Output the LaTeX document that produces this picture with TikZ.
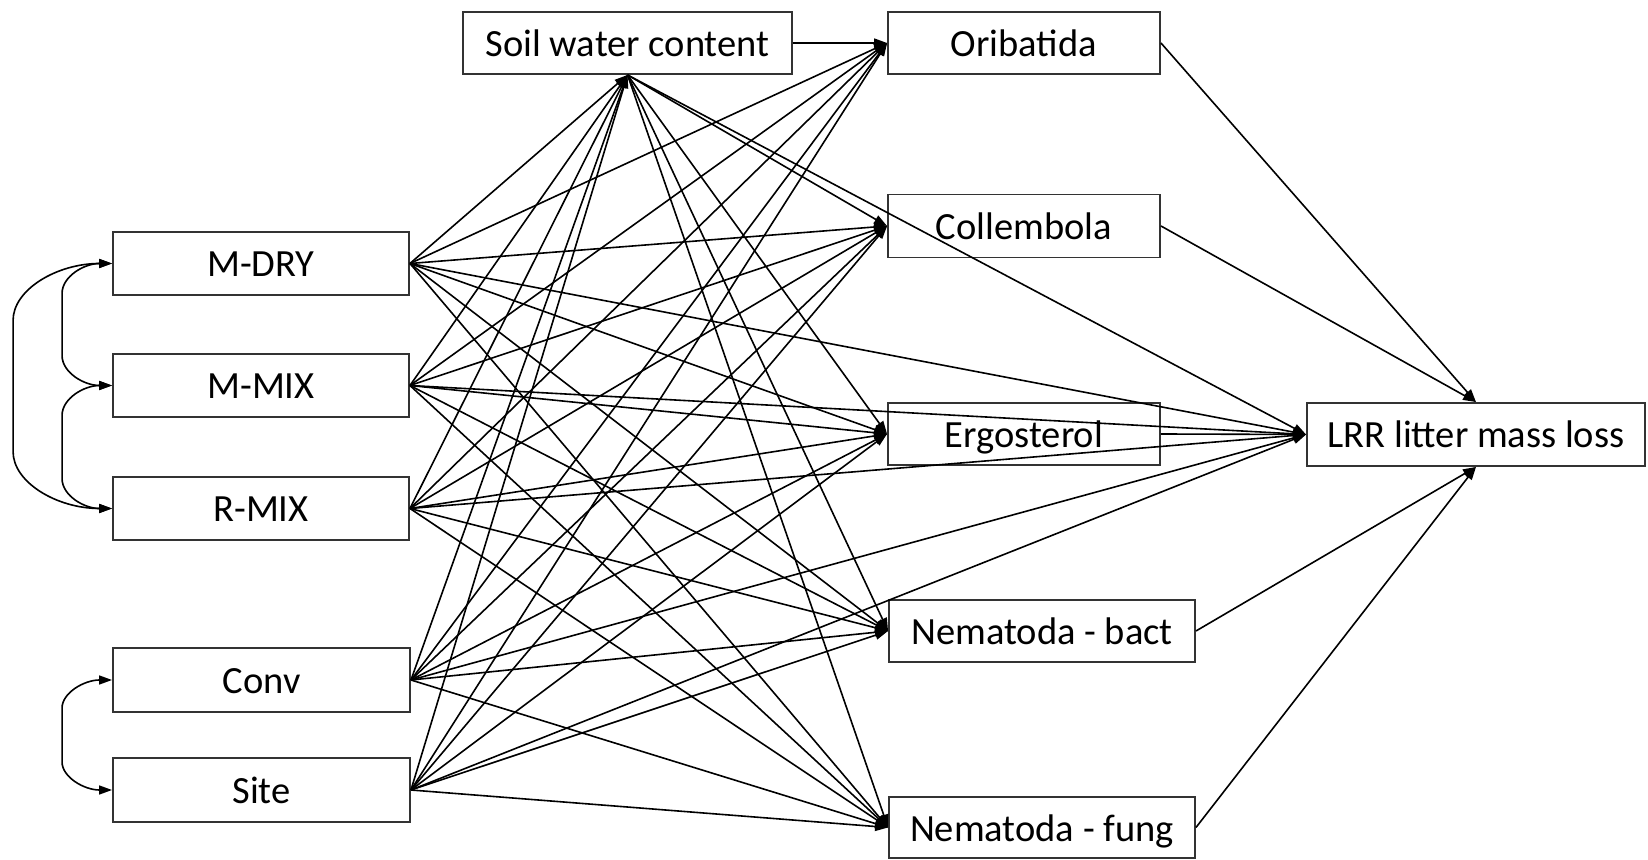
\documentclass[tikz,border=0pt]{standalone}
\usepackage{fontspec}
\setmainfont{Carlito}
\usetikzlibrary{arrows.meta}
\begin{document}
\begin{tikzpicture}[x=1pt,y=1pt,
  box/.style={draw=black!80, line width=1.9pt, rectangle, minimum height=62pt, inner sep=0pt,
    text height=30pt, text depth=3pt, font=\fontsize{38.5}{46}\selectfont, text=black},
  link/.style={line width=1.6pt, -{Triangle[length=13pt,width=9pt]}},
  bilink/.style={line width=1.6pt, {Triangle[length=13pt,width=9pt]}-{Triangle[length=13pt,width=9pt]}}]
\useasboundingbox (0,0) rectangle (1648,859);

% nodes
\node[box, minimum width=329pt] (swc) at (627.5,816) {Soil water content};
\node[box, minimum width=272pt] (ori) at (1024,816) {Oribatida};
\node[box, minimum width=272pt, minimum height=63pt] (col) at (1024,633) {Collembola};
\node[box, minimum width=272pt] (erg) at (1024,425) {Ergosterol};
\node[box, minimum width=306pt] (nb) at (1042,228) {Nematoda - bact};
\node[box, minimum width=306pt, minimum height=61pt] (nf) at (1042,31.5) {Nematoda - fung};
\node[box, minimum width=338pt, minimum height=63pt] (lrr) at (1476,424.5) {LRR litter mass loss};
\node[box, minimum width=296pt, minimum height=63pt] (mdry) at (261,595.5) {M-DRY};
\node[box, minimum width=296pt, minimum height=63pt] (mmix) at (261,473.5) {M-MIX};
\node[box, minimum width=296pt, minimum height=63pt] (rmix) at (261,350.5) {R-MIX};
\node[box, minimum width=297pt, minimum height=64pt] (conv) at (261.5,179) {Conv};
\node[box, minimum width=297pt, minimum height=64pt] (site) at (261.5,69) {Site};

% exogenous -> everything
\foreach \s in {mdry,mmix,rmix,conv,site}{
  \foreach \t/\a in {swc/south,ori/west,col/west,erg/west,nb/west,nf/west,lrr/west}{
    \draw[link] (\s.east) -- (\t.\a);
  }
}
% soil water content
\draw[link] (swc.east) -- (ori.west);
\foreach \t/\a in {col/west,erg/west,nb/west,nf/west,lrr/west}{
  \draw[link] (swc.south) -- (\t.\a);
}
% mediators -> LRR
\draw[link] (ori.east) -- (lrr.north);
\draw[link] (col.east) -- (lrr.north);
\draw[link] (erg.east) -- (lrr.west);
\draw[link] (nb.east) -- (lrr.south);
\draw[link] (nf.east) -- (lrr.south);

% correlations
\draw[bilink] (mdry.west) .. controls +(-28,0) and +(0,17) .. ++(-50,-30) -- ++(0,-62) .. controls +(0,-17) and +(-28,0) .. (mmix.west);
\draw[bilink] (mmix.west) .. controls +(-28,0) and +(0,17) .. ++(-50,-30) -- ++(0,-63) .. controls +(0,-17) and +(-28,0) .. (rmix.west);
\draw[bilink] (mdry.west) .. controls +(-55,0) and +(0,31) .. ++(-99,-57) -- ++(0,-131) .. controls +(0,-31) and +(-55,0) .. (rmix.west);
\draw[bilink] (conv.west) .. controls +(-28,0) and +(0,15) .. ++(-50,-28) -- ++(0,-54) .. controls +(0,-15) and +(-28,0) .. (site.west);
\end{tikzpicture}
\end{document}
